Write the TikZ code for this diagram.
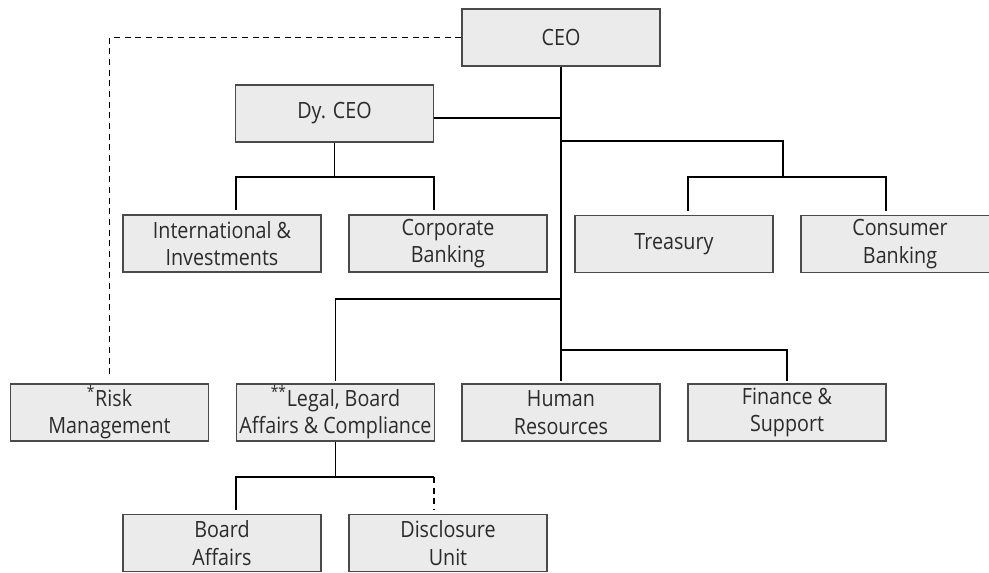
\documentclass[tikz,border=0pt]{standalone}
\usepackage{fontspec}
\setmainfont{Open Sans}[FakeStretch=0.88]
\usetikzlibrary{calc}

\definecolor{boxfill}{HTML}{EBEBEB}
\definecolor{boxline}{HTML}{4A4A4A}
\definecolor{inktext}{HTML}{2B2B2B}

\begin{document}
\begin{tikzpicture}[
    x=0.75pt, y=-0.75pt,
    unit/.style={rectangle, draw=boxline, fill=boxfill, line width=0.9pt, minimum width=148.5pt, minimum height=42.75pt, inner sep=0pt, align=center, text=inktext, font=\fontsize{16.8}{20.5}\selectfont},
    link/.style={line width=0.9pt, black},
    dashlink/.style={link, dash pattern=on 4.5pt off 3.5pt}
]
\path[use as bounding box, fill=white] (0,0) rectangle (989,572);

\node[unit] (ceo) at (561,37.5) {CEO};
\node[unit] (dyceo) at (334.5,113.5) {Dy. CEO};
\node[unit] (intl) at (222,243.5) {International \&\\Investments};
\node[unit] (corp) at (448,243.5) {Corporate\\Banking};
\node[unit] (treasury) at (674,244) {Treasury};
\node[unit] (consumer) at (900,244) {Consumer\\Banking};
\node[unit] (risk) at (109.5,412.5) {\textsuperscript{*}Risk\\Management};
\node[unit] (legal) at (335.5,412.5) {\textsuperscript{**}Legal, Board\\Affairs \& Compliance};
\node[unit] (hr) at (561,412.5) {Human\\Resources};
\node[unit] (finance) at (787,412.5) {Finance \&\\Support};
\node[unit] (board) at (222,543) {Board\\Affairs};
\node[unit] (disclosure) at (448,543) {Disclosure\\Unit};

% junctions on the trunk and the bus lines
\coordinate (dyjoin) at ($(dyceo.east)+(0,4.5)$);
\coordinate (fojoin) at (561,141);
\coordinate (lgjoin) at (561,299);
\coordinate (spjoin) at (561,350);
\coordinate (dybus) at (334.5,177);
\coordinate (fobus) at (783,177);
\coordinate (lgbus) at (335.5,477);
\coordinate (discdrop) at ($(disclosure.north)+(-14,0)$);

\draw[link, shorten >=1.5pt] (ceo.south) -- (hr.north);
\draw[link] (dyjoin) -- (dyjoin -| ceo.south);
\draw[dashlink, shorten >=4.5pt] (ceo.west) -| (risk.north);

\draw[link] (dyceo.south) -- (dybus);
\draw[link, shorten <=3pt, shorten >=3pt] ($(intl.north)+(14,0)$) |- (dybus) -| ($(corp.north)+(-14,0)$);

\draw[link] (fojoin) -| (fobus);
\draw[link, shorten <=3pt, shorten >=3pt] ($(treasury.north)+(14,0)$) |- (fobus) -| ($(consumer.north)+(-14,0)$);

\draw[link, shorten >=1.5pt] (lgjoin) -| (legal.north);
\draw[link, shorten >=1.5pt] (spjoin) -| (finance.north);

\draw[link] (legal.south) -- (lgbus);
\draw[link, shorten <=3pt] ($(board.north)+(14,0)$) |- (lgbus) -- (discdrop |- lgbus);
\draw[dashlink, shorten >=3pt] (discdrop |- lgbus) -- (discdrop);
\end{tikzpicture}
\end{document}
